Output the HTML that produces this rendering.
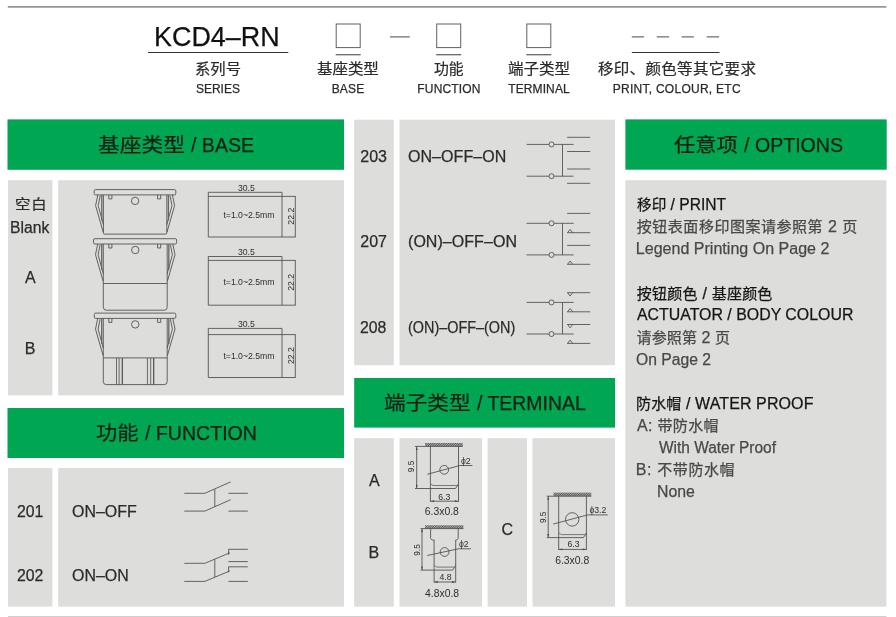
<!DOCTYPE html>
<html lang="zh-CN">
<head>
<meta charset="utf-8">
<title>KCD4-RN</title>
<style>
html,body{margin:0;padding:0;background:#fff}
body{width:896px;height:617px;position:relative;overflow:hidden;font-family:"Liberation Sans","Noto Sans CJK SC",sans-serif;color:#2b2b2b}
.page{position:absolute;left:0;top:0;width:896px;height:617px;will-change:transform}
.t{position:absolute;white-space:pre;line-height:1;margin:0;font-weight:400;transform-origin:0 0;-webkit-text-stroke:0.25px currentColor}
.hd{color:#0c1f12}
.ob{color:#484848}
.oh{color:#151515}
svg{position:absolute;left:0;top:0;overflow:visible}
svg text{font-family:"Liberation Sans",sans-serif;fill:#2e2e2e}
</style>
</head>
<body>
<div class="page">
<svg width="896" height="617" viewBox="0 0 896 617" fill="none" stroke="#4c4c4c" stroke-width="0.85" stroke-linecap="butt" stroke-linejoin="miter">
<defs><pattern id="hatch" width="1.6" height="1.6" patternUnits="userSpaceOnUse" patternTransform="rotate(45)"><rect width="1.6" height="1.6" fill="#bbb" stroke="none"/><rect width="0.9" height="1.6" fill="#555" stroke="none"/></pattern></defs>
<g stroke="none">
<rect x="7.8" y="6.2" width="878.6" height="1.4" fill="#7d7d7d"/>
<rect x="8" y="616" width="878.4" height="1" fill="#cfcfcf"/>
<rect x="7.5" y="119.4" width="336.5" height="50.4" fill="#00a652"/>
<rect x="7.5" y="408" width="336.5" height="50" fill="#00a652"/>
<rect x="354.2" y="378" width="260.8" height="49.6" fill="#00a652"/>
<rect x="625.4" y="119.4" width="261.3" height="50.3" fill="#00a652"/>
<rect x="8" y="180.2" width="44.4" height="215.2" fill="#dddddb"/>
<rect x="58.2" y="180.2" width="285.8" height="215.2" fill="#dddddb"/>
<rect x="8" y="468" width="44.4" height="138.6" fill="#dddddb"/>
<rect x="58.2" y="468" width="285.8" height="138.6" fill="#dddddb"/>
<rect x="354.2" y="119.7" width="39.6" height="245.5" fill="#dddddb"/>
<rect x="399.5" y="119.7" width="215.5" height="245.5" fill="#dddddb"/>
<rect x="354.2" y="438.2" width="39.6" height="168.4" fill="#dddddb"/>
<rect x="399.5" y="438.2" width="82.5" height="168.4" fill="#dddddb"/>
<rect x="487.6" y="438.2" width="39.4" height="168.4" fill="#dddddb"/>
<rect x="532.5" y="438.2" width="82.5" height="168.4" fill="#dddddb"/>
<rect x="625.4" y="180.2" width="261" height="426.4" fill="#dddddb"/>
</g>
<g stroke="#666" stroke-width="1">
<rect x="336.2" y="24" width="24" height="23.6" stroke="#606060"/>
<path d="M335.7,54.7h25" stroke-width="1.3"/>
<rect x="436.7" y="24" width="24" height="23.6" stroke="#606060"/>
<path d="M436.2,54.7h25" stroke-width="1.3"/>
<rect x="526.8" y="24" width="24" height="23.6" stroke="#606060"/>
<path d="M526.3,54.7h25" stroke-width="1.3"/>
<path d="M390,36.9h19.8M631.8,36.9h12.3M656.7,36.9h12.5M681.6,36.9h12.3M706.6,36.9h12.5" stroke="#6e6e6e" stroke-width="1.2"/>
<path d="M148,52.5h140.3M631.8,52.5h87.7" stroke="#333" stroke-width="1"/>
</g>
<g><rect x="94.2" y="189.6" width="81.6" height="5.3" rx="1.3"/><path d="M108.8,194.9v4h3.1v-4"/><path d="M157.6,194.9v4h3.1v-4"/><circle cx="135.1" cy="200.9" r="3.7"/><path d="M97.8,194.9L95.6,205.6L103.2,232.1"/><path d="M100.2,195.7L98.2,205.6L103.4,224.6"/><path d="M101.8,194.9V220.6" stroke-width="1.3" stroke="#666"/><path d="M172.4,194.9L174.6,205.6L167,232.1"/><path d="M170,195.7L172,205.6L166.8,224.6"/><path d="M168.4,194.9V220.6" stroke-width="1.3" stroke="#666"/><path d="M103.4,194.9V233.1q0,1 1,1H165.8q1,0 1,-1V194.9"/></g>
<g><rect x="93.5" y="238.7" width="83.1" height="5.3" rx="1.3"/><path d="M108.8,244v4h3.1v-4"/><path d="M157.6,244v4h3.1v-4"/><circle cx="135.25" cy="250" r="3.7"/><path d="M97.7,244L95.5,254.7L103.1,281.2"/><path d="M100.1,244.8L98.1,254.7L103.3,273.7"/><path d="M101.7,244V269.7" stroke-width="1.3" stroke="#666"/><path d="M172.8,244L175,254.7L167.4,281.2"/><path d="M170.4,244.8L172.4,254.7L167.2,273.7"/><path d="M168.8,244V269.7" stroke-width="1.3" stroke="#666"/><path d="M103.3,244V307.2q0,3 3,3H164.2q3,0 3,-3V244"/><path d="M103.3,283.5H167.2"/></g>
<g><rect x="94.3" y="313.1" width="81.5" height="5.3" rx="1.3"/><path d="M108.8,318.4v4h3.1v-4"/><path d="M157.6,318.4v4h3.1v-4"/><circle cx="135.25" cy="324.4" r="3.7"/><path d="M97.7,318.4L95.5,329.1L103.1,355.6"/><path d="M100.1,319.2L98.1,329.1L103.3,348.1"/><path d="M101.7,318.4V344.1" stroke-width="1.3" stroke="#666"/><path d="M172.8,318.4L175,329.1L167.4,355.6"/><path d="M170.4,319.2L172.4,329.1L167.2,348.1"/><path d="M168.8,318.4V344.1" stroke-width="1.3" stroke="#666"/><path d="M103.3,318.4V381.6q0,3 3,3H164.2q3,0 3,-3V318.4"/><path d="M103.3,357.9H167.2"/><path d="M116.5,357.9V384.6" stroke-width="0.8"/><path d="M119.1,357.9V384.6" stroke-width="0.8"/><path d="M122.3,357.9V384.6" stroke-width="1.2"/><path d="M147.4,357.9V384.6" stroke-width="0.8"/><path d="M150.7,357.9V384.6" stroke-width="0.8"/><path d="M153.7,357.9V384.6" stroke-width="1.2"/></g>
<g><path d="M208.3,192.3H282V237H208.3Z"/><path d="M208.3,196.4H295.6M282,237H295.6M295.3,196.4V237"/><text x="246.4" y="190.7" font-size="8.7" text-anchor="middle" stroke="none">30.5</text><text x="249" y="217.9" font-size="8.7" text-anchor="middle" stroke="none">t=1.0~2.5mm</text><text transform="translate(293.5,216.2) rotate(-90)" font-size="8.7" text-anchor="middle" stroke="none">22.2</text></g>
<g><path d="M208.3,256.5H282V305.2H208.3Z"/><path d="M208.3,260.4H295.6M282,305.2H295.6M295.3,260.4V305.2"/><text x="246.4" y="254.9" font-size="8.7" text-anchor="middle" stroke="none">30.5</text><text x="249" y="284.7" font-size="8.7" text-anchor="middle" stroke="none">t=1.0~2.5mm</text><text transform="translate(293.5,282.3) rotate(-90)" font-size="8.7" text-anchor="middle" stroke="none">22.2</text></g>
<g><path d="M208.3,328.4H282V377.5H208.3Z"/><path d="M208.3,334.6H295.6M282,377.5H295.6M295.3,334.6V377.5"/><text x="246.4" y="326.8" font-size="8.7" text-anchor="middle" stroke="none">30.5</text><text x="249" y="358.7" font-size="8.7" text-anchor="middle" stroke="none">t=1.0~2.5mm</text><text transform="translate(293.5,355.55) rotate(-90)" font-size="8.7" text-anchor="middle" stroke="none">22.2</text></g>
<g><path d="M184.3,493.3H204.8L230.7,481.9"/><path d="M184.3,511.1H204.8L230.7,499.7"/><path d="M214.8,489.3V506.8"/><path d="M228.4,493.3H247.8"/><path d="M228.4,511.1H247.8"/></g>
<g><path d="M184.3,563.3H204.8L229.9,552.8"/><path d="M184.3,581.4H204.8L229.9,570.9"/><path d="M214.8,559.3V577.1"/><path d="M247.8,549.3H228.6V554.8"/><path d="M228.4,561.6H247.8"/><path d="M247.8,566.8H228.6V572.3"/><path d="M228.4,581.4H247.8"/></g>
<g><path d="M526.6,144.4H549M554.1,144.4H573.6"/><circle cx="551.5" cy="144.4" r="2.5"/><path d="M526.6,176.2H549M554.1,176.2H573.6"/><circle cx="551.5" cy="176.2" r="2.5"/><path d="M562.5,144.4V176.2"/><path d="M567.1,137.3H590.2"/><path d="M567.1,151.5H590.2"/><path d="M567.1,169H590.2"/><path d="M567.1,183.3H590.2"/></g>
<g><path d="M526.6,223.3H549M554.1,223.3H573.6"/><circle cx="551.5" cy="223.3" r="2.5"/><path d="M526.6,254.9H549M554.1,254.9H573.6"/><circle cx="551.5" cy="254.9" r="2.5"/><path d="M562.5,223.3V254.9"/><path d="M567.1,213.4H590.2"/><path d="M567.1,232.7H590.2"/><path d="M567.6,232.7L570.1,229.4L572.7,232.7"/><path d="M567.1,245.4H590.2"/><path d="M567.1,264.3H590.2"/><path d="M567.6,264.3L570.1,261L572.7,264.3"/></g>
<g><path d="M526.6,302.4H549M554.1,302.4H573.6"/><circle cx="551.5" cy="302.4" r="2.5"/><path d="M526.6,334H549M554.1,334H573.6"/><circle cx="551.5" cy="334" r="2.5"/><path d="M562.5,302.4V334"/><path d="M567.1,292.7H590.2"/><path d="M567.6,292.7L570.1,296L572.7,292.7"/><path d="M567.1,311.8H590.2"/><path d="M567.6,311.8L570.1,308.5L572.7,311.8"/><path d="M567.1,324.5H590.2"/><path d="M567.6,324.5L570.1,327.8L572.7,324.5"/><path d="M567.1,343.4H590.2"/><path d="M567.6,343.4L570.1,340.1L572.7,343.4"/></g>
<g><rect x="425.1" y="443" width="37.6" height="3.4" fill="url(#hatch)" stroke="none"/><path d="M415,446.4H462.7"/><path d="M416.7,446.4V488.5"/><path d="M416.7,446.7l-0.9,3.2h1.8z" fill="#444" stroke="none"/><path d="M416.7,488.2l-0.9,-3.2h1.8z" fill="#444" stroke="none"/><path d="M430.4,446.4V501.8M458.5,446.4V501.8"/><path d="M415,488.5H455.5L458.5,483.9"/><path d="M433,485.5H456.9M430.8,483.9l2.2,1.6" stroke-width="0.7"/><circle cx="444.2" cy="469.8" r="4.4"/><path d="M427.2,474.3L459.9,465.5H472.4"/><text x="461" y="463.9" font-size="8.7" stroke="none">ϕ2</text><path d="M430.4,501.2H458.5"/><path d="M430.7,501.2l3.4,-0.9v1.8z" fill="#444" stroke="none"/><path d="M458.2,501.2l-3.4,-0.9v1.8z" fill="#444" stroke="none"/><text x="444.2" y="499.6" font-size="8.7" text-anchor="middle" stroke="none">6.3</text><text x="441.8" y="515.4" font-size="10.4" text-anchor="middle" stroke="none">6.3x0.8</text><text transform="translate(414,466.5) rotate(-90)" font-size="8.2" text-anchor="middle" stroke="none">9.5</text></g>
<g><rect x="425" y="525.3" width="38.4" height="3.3" fill="url(#hatch)" stroke="none"/><path d="M420.6,528.6H463.4"/><path d="M422,528.6V570.1"/><path d="M422,528.9l-0.9,3.2h1.8z" fill="#444" stroke="none"/><path d="M422,569.8l-0.9,-3.2h1.8z" fill="#444" stroke="none"/><path d="M430.6,528.6V538.5l1.4,1.5H434.1V582.6"/><path d="M458.2,528.6V538.5l-1.4,1.5H455.7V582.6"/><path d="M420.6,570.1H452.7L455.7,565.5"/><path d="M436.7,567.1H454.1M434.5,565.5l2.2,1.6" stroke-width="0.7"/><circle cx="444.6" cy="552" r="4.4"/><path d="M427.2,555.5L458.5,548.8H471"/><text x="459" y="546.9" font-size="8.7" stroke="none">ϕ2</text><path d="M434.1,582H455.7"/><path d="M434.4,582l3.4,-0.9v1.8z" fill="#444" stroke="none"/><path d="M455.4,582l-3.4,-0.9v1.8z" fill="#444" stroke="none"/><text x="445.5" y="579.8" font-size="8.7" text-anchor="middle" stroke="none">4.8</text><text x="442.1" y="597" font-size="10.4" text-anchor="middle" stroke="none">4.8x0.8</text><text transform="translate(419.5,550) rotate(-90)" font-size="8.2" text-anchor="middle" stroke="none">9.5</text></g>
<g><rect x="553.5" y="492.6" width="37.8" height="3.6" fill="url(#hatch)" stroke="none"/><path d="M546.7,496.2H591.3"/><path d="M548.2,496.2V537.6"/><path d="M548.2,496.5l-0.9,3.2h1.8z" fill="#444" stroke="none"/><path d="M548.2,537.3l-0.9,-3.2h1.8z" fill="#444" stroke="none"/><path d="M558.7,496.2V550M586.4,496.2V550"/><path d="M546.7,537.6H583.4L586.4,533"/><path d="M561.3,534.6H584.8M559.1,533l2.2,1.6" stroke-width="0.7"/><circle cx="572.2" cy="519.4" r="6.7"/><path d="M553.2,524.1L587.6,514.9H607.8"/><text x="589.4" y="512.9" font-size="8.7" stroke="none">ϕ3.2</text><path d="M558.7,549.4H586.4"/><path d="M559,549.4l3.4,-0.9v1.8z" fill="#444" stroke="none"/><path d="M586.1,549.4l-3.4,-0.9v1.8z" fill="#444" stroke="none"/><text x="573.5" y="547.3" font-size="8.7" text-anchor="middle" stroke="none">6.3</text><text x="572.2" y="563.5" font-size="10.4" text-anchor="middle" stroke="none">6.3x0.8</text><text transform="translate(546,517.3) rotate(-90)" font-size="8.2" text-anchor="middle" stroke="none">9.5</text></g>
</svg>
<header>
<h1 class="t" style="left:154.42px;top:23px;font-size:27.8px;color:#111;transform:scale(0.9685,1.0);">KCD4–RN</h1>
<div class="t" style="left:195.41px;top:62px;font-size:15.5px;transform:scale(0.9888,0.92);">系列号</div><div class="t" style="left:195.9px;top:83px;font-size:12px;letter-spacing:0.02px;">SERIES</div>
<div class="t" style="left:317.4px;top:62px;font-size:15.5px;transform:scale(0.9967,0.92);">基座类型</div><div class="t" style="left:331.65px;top:83px;font-size:12px;letter-spacing:0.217px;">BASE</div>
<div class="t" style="left:433.92px;top:62px;font-size:15.5px;transform:scale(0.9567,0.92);">功能</div><div class="t" style="left:417.35px;top:83px;font-size:12px;letter-spacing:0.15px;">FUNCTION</div>
<div class="t" style="left:508.0px;top:62px;font-size:15.5px;transform:scale(1.0,0.92);">端子类型</div><div class="t" style="left:508.25px;top:83px;font-size:12px;letter-spacing:0.107px;">TERMINAL</div>
<div class="t" style="left:597.9px;top:62px;font-size:15.5px;letter-spacing:0.333px;transform:scale(1.0,0.92);">移印、颜色等其它要求</div><div class="t" style="left:612.75px;top:83px;font-size:12px;letter-spacing:0.262px;">PRINT, COLOUR, ETC</div>
</header>
<section>
<span class="t hd" style="left:97.75px;top:136px;font-size:21.8px;transform:scale(0.9988,0.91);">基座类型</span><span class="t hd" style="left:190.9px;top:135px;font-size:20px;transform:scale(0.9773,1.0);">/ BASE</span>
<div class="t" style="left:15.0px;top:197px;font-size:15.4px;letter-spacing:0.75px;transform:scale(1.0,0.92);">空白</div><div class="t" style="left:9.77px;top:220px;font-size:16px;transform:scale(0.9806,1.0);">Blank</div><div class="t" style="left:24.88px;top:270px;font-size:16px;">A</div><div class="t" style="left:24.75px;top:341px;font-size:16px;">B</div>
</section>
<section>
<span class="t hd" style="left:95.77px;top:424px;font-size:21.8px;transform:scale(0.9751,0.91);">功能</span><span class="t hd" style="left:144.7px;top:423px;font-size:20px;transform:scale(0.9779,1.0);">/ FUNCTION</span>
<div class="t" style="left:16.76px;top:504px;font-size:16px;transform:scale(0.9901,1.0);">201</div><div class="t" style="left:71.5px;top:504px;font-size:16px;transform:scale(0.9961,1.0);">ON–OFF</div><div class="t" style="left:16.76px;top:568px;font-size:16px;transform:scale(0.9901,1.0);">202</div><div class="t" style="left:71.5px;top:568px;font-size:16px;transform:scale(0.9955,1.0);">ON–ON</div>
</section>
<section>
<div class="t" style="left:360.25px;top:149px;font-size:16px;">203</div><div class="t" style="left:408.0px;top:149px;font-size:16px;letter-spacing:0.062px;">ON–OFF–ON</div><div class="t" style="left:360.25px;top:234px;font-size:16px;">207</div><div class="t" style="left:408.0px;top:234px;font-size:16px;letter-spacing:0.05px;">(ON)–OFF–ON</div><div class="t" style="left:360.26px;top:320px;font-size:16px;transform:scale(0.9902,1.0);">208</div><div class="t" style="left:408.08px;top:320px;font-size:16px;transform:scale(0.9,1.0);">(ON)–OFF–(ON)</div>
</section>
<section>
<span class="t hd" style="left:383.85px;top:394px;font-size:21.8px;transform:scale(0.9942,0.91);">端子类型</span><span class="t hd" style="left:477.0px;top:393px;font-size:20px;transform:scale(0.9717,1.0);">/ TERMINAL</span>
<div class="t" style="left:368.88px;top:473px;font-size:16px;">A</div><div class="t" style="left:368.5px;top:545px;font-size:16px;">B</div><div class="t" style="left:501.38px;top:522px;font-size:16px;">C</div>
</section>
<section>
<span class="t hd" style="left:673.81px;top:136px;font-size:21.8px;transform:scale(0.975,0.91);">任意项</span><span class="t hd" style="left:744.0px;top:135px;font-size:20px;transform:scale(0.9796,1.0);">/ OPTIONS</span>
<p class="t oh" style="left:636.61px;top:197px;font-size:16px;transform:scale(0.9757,1.0);"><span style="font-size:15.0px">移印</span> / PRINT</p>
<p class="t ob" style="left:636.85px;top:219px;font-size:16px;letter-spacing:0.51px;"><span style="font-size:15.0px">按钮表面移印图案请参照第</span> 2 <span style="font-size:15.0px">页</span></p>
<p class="t ob" style="left:635.85px;top:241px;font-size:16px;letter-spacing:0.021px;">Legend Printing On Page 2</p>
<p class="t oh" style="left:636.85px;top:286px;font-size:16px;letter-spacing:0.215px;"><span style="font-size:15.0px">按钮颜色</span> / <span style="font-size:15.0px">基座颜色</span></p>
<p class="t oh" style="left:637.1px;top:307px;font-size:16px;transform:scale(0.9933,1.0);">ACTUATOR / BODY COLOUR</p>
<p class="t ob" style="left:636.6px;top:330px;font-size:16px;letter-spacing:0.1px;"><span style="font-size:15.0px">请参照第</span> 2 <span style="font-size:15.0px">页</span></p>
<p class="t ob" style="left:636.36px;top:352px;font-size:16px;transform:scale(0.98,1.0);">On Page 2</p>
<p class="t oh" style="left:636.1px;top:396px;font-size:16px;letter-spacing:0.103px;"><span style="font-size:15.0px">防水帽</span> / WATER PROOF</p>
<p class="t ob" style="left:637.1px;top:418px;font-size:16px;letter-spacing:0.292px;">A: <span style="font-size:15.0px">带防水帽</span></p>
<p class="t ob" style="left:658.6px;top:440px;font-size:16px;transform:scale(0.9649,1.0);">With Water Proof</p>
<p class="t ob" style="left:635.85px;top:462px;font-size:16px;letter-spacing:0.6px;">B: <span style="font-size:15.0px">不带防水帽</span></p>
<p class="t ob" style="left:657.36px;top:484px;font-size:16px;transform:scale(0.989,1.0);">None</p>
</section>
</div>
</body>
</html>
